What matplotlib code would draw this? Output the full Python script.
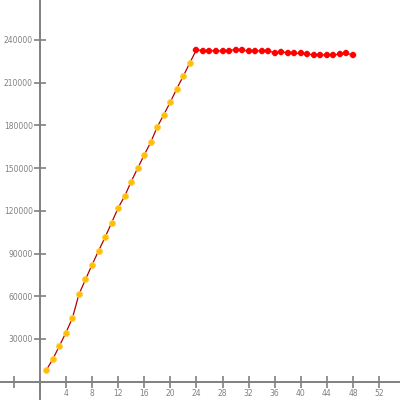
import numpy as np
import matplotlib.pyplot as plt

# rising part (orange markers)
x_rise = list(range(1, 24))
y_rise = [8200, 15900, 25100, 34400, 44700, 61400, 71800, 82000, 91800, 101400,
          111500, 122000, 130200, 140500, 149900, 159200, 168100, 178900, 187500,
          196300, 205800, 214700, 224000]

# plateau part (red markers)
x_flat = list(range(24, 49))
y_flat = [233000, 232500, 232500, 232300, 232300, 232500, 233200, 233000, 232000,
          232300, 232300, 232300, 231000, 231500, 231000, 230500, 230500, 230000,
          229500, 229500, 229500, 229500, 230000, 230500, 229500]

xticks = list(range(-4, 56, 4))
xtick_labels = ['' if t <= 0 else str(t) for t in xticks]
yticks = list(range(30000, 270000, 30000))
ytick_labels = [str(t) for t in yticks]

grey = '#808080'

fig = plt.figure(figsize=(4, 4), dpi=100)
ax = fig.add_axes([0, 0, 1, 1])

# join line
ax.plot(x_rise + [x_flat[0]], y_rise + [y_flat[0]], color='#b00000', lw=0.9, zorder=2)
ax.plot(x_flat, y_flat, color='#ff0000', lw=0.9, zorder=2)
ax.plot(x_rise, y_rise, ls='none', marker='o', ms=4.3, color='#ffbf00',
        markeredgecolor='#ffd050', mew=0.6, zorder=3)
ax.plot(x_flat, y_flat, ls='none', marker='8', ms=4, color='#ff0000',
        markeredgecolor='#ff0000', mew=0.3, zorder=3)

ax.set_xlim(-6.1, 55.2)
ax.set_ylim(-12850, 268000)

for s in ['top', 'right']:
    ax.spines[s].set_visible(False)
for s in ['left', 'bottom']:
    ax.spines[s].set_position(('data', 0))
    ax.spines[s].set_color(grey)
    ax.spines[s].set_linewidth(1.2)

ax.set_xticks(xticks)
ax.set_xticklabels(xtick_labels)
ax.set_yticks(yticks)
ax.set_yticklabels(ytick_labels)
ax.tick_params(direction='inout', length=8, width=1.2, color=grey,
               labelcolor=grey, labelsize=5.5)
ax.tick_params(axis='x', pad=1)
ax.tick_params(axis='y', pad=1)

# extend axis lines to figure edges
ax.axvline(0, color=grey, lw=1.2, zorder=1)
ax.axhline(0, color=grey, lw=1.2, zorder=1)

fig.savefig('out.png', dpi=100)
